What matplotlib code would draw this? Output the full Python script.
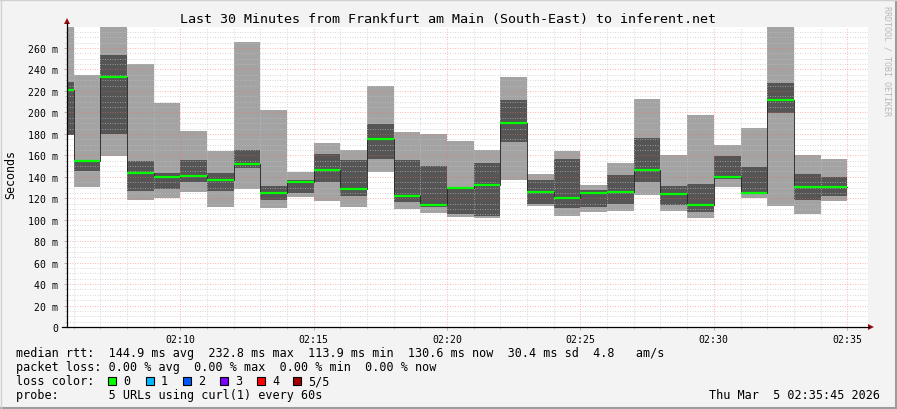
import matplotlib
matplotlib.use("Agg")
import matplotlib.pyplot as plt
from matplotlib.patches import Rectangle, Polygon
from matplotlib.lines import Line2D

# minute bins (minutes after 02:00); bin 5 is only partly visible
minutes = list(range(5, 35))
rtt_max = [300, 235.3, 290, 245.2, 209.2, 182.7, 164.4, 266.0, 202.3, 144.8,
           171.5, 165.0, 224.7, 182.1, 179.9, 173.4, 165.0, 233.1, 142.6, 164.1,
           132.4, 153.2, 212.6, 160.4, 197.7, 169.7, 185.5, 300, 160.4, 156.6]
rtt_upper = [228.4, 155.1, 253.6, 154.8, 143.6, 155.7, 143.6, 165.0, 131.5, 137.0,
             161.3, 155.7, 189.1, 155.7, 150.1, 129.6, 152.9, 211.6, 137.0, 156.6,
             127.7, 141.7, 176.2, 131.5, 133.3, 159.4, 149.2, 227.5, 142.6, 139.8]
rtt_median = [221.3, 155.1, 233.4, 143.9, 140.2, 140.8, 137.4, 152.3, 124.9, 135.5,
              146.7, 129.0, 175.6, 122.1, 113.7, 129.6, 132.4, 190.2, 126.2, 120.6,
              125.2, 126.2, 146.7, 124.0, 113.7, 139.8, 125.2, 211.6, 130.8, 130.8]
rtt_lower = [179.0, 145.8, 180.0, 127.1, 129.0, 135.2, 127.1, 147.9, 118.7, 124.9,
             135.5, 122.1, 156.6, 116.8, 111.6, 105.4, 103.8, 172.8, 114.7, 110.9,
             112.2, 114.7, 135.2, 113.7, 107.2, 138.0, 124.0, 199.5, 118.4, 122.1]
rtt_min = [179.0, 130.5, 159.7, 118.7, 120.6, 126.2, 112.2, 129.0, 111.3, 120.9,
           117.8, 112.2, 144.8, 110.0, 106.3, 102.5, 101.6, 137.4, 113.1, 103.8,
           107.5, 108.1, 123.1, 108.1, 101.6, 130.5, 120.3, 112.8, 105.4, 117.5]

x_ticks = [10, 15, 20, 25, 30, 35]
x_labels = ["02:10", "02:15", "02:20", "02:25", "02:30", "02:35"]
y_ticks = list(range(0, 261, 20))
y_labels = ["0"] + ["%d m" % v for v in y_ticks[1:]]

loss_labels = ["0", "1", "2", "3", "4", "5/5"]
loss_colors = ["#00ff00", "#00b8ff", "#0059ff", "#7e00ff", "#ff0000", "#a10000"]

W, H = 897, 410
mono = "DejaVu Sans Mono"


def fx(px):
    return px / W


def fy(py):
    return 1 - py / H


fig = plt.figure(figsize=(W / 100, H / 100), dpi=100)
fig.patch.set_facecolor("#f3f3f3")

ax = fig.add_axes([fx(67), fy(328), fx(868) - fx(67), fy(28) - fy(328)])
ax.set_facecolor("white")
ax.set_xlim(5.75, 35.78)
ax.set_ylim(0, 279.6)

# smoke: light band min..max, dark band around the median
heights_light = [a - b for a, b in zip(rtt_max, rtt_min)]
heights_dark = [a - b for a, b in zip(rtt_upper, rtt_lower)]
ax.bar(minutes, heights_light, bottom=rtt_min, width=1, align="edge",
       color="#a3a3a3", linewidth=0, zorder=2)
ax.bar(minutes, heights_dark, bottom=rtt_lower, width=1, align="edge",
       color="#555555", linewidth=0, zorder=2)

# grid on top of the smoke, rrdtool style dotted lines
minor_col = (0.76, 0.76, 0.76, 0.6)
major_col = (1.0, 0.4, 0.4, 0.45)
dots = (0, (1, 1.5))
for v in range(5, 280, 5):
    if v % 20:
        ax.axhline(v, color=minor_col, lw=0.72, ls=dots, zorder=3)
for v in range(20, 280, 20):
    ax.axhline(v, color=major_col, lw=0.72, ls=dots, zorder=3)
for m in range(6, 36):
    if m % 5:
        ax.axvline(m, color=minor_col, lw=0.72, ls=dots, zorder=3)
for m in x_ticks:
    ax.axvline(m, color=major_col, lw=0.72, ls=dots, zorder=3)

# median: dark step line, green segments (no loss)
edges = minutes + [minutes[-1] + 1]
ax.step(edges, rtt_median + [rtt_median[-1]], where="post", color="#202020",
        lw=0.6, zorder=4)
ax.hlines(rtt_median, minutes, [m + 1 for m in minutes], color="#00ff00",
          lw=1.6, zorder=5)

for s in ax.spines.values():
    s.set_visible(False)
ax.set_xticks(x_ticks)
ax.set_xticklabels(x_labels)
ax.set_xticks(range(6, 36), minor=True)
ax.set_yticks(y_ticks)
ax.set_yticklabels(y_labels)
ax.set_yticks(range(0, 280, 5), minor=True)
for lab in ax.get_xticklabels() + ax.get_yticklabels():
    lab.set_fontfamily(mono)
    lab.set_fontsize(7.1)
ax.tick_params(axis="both", which="major", length=2, width=0.7, color="#b0b0b0")
ax.tick_params(axis="both", which="minor", length=1.5, width=0.7, color="#c8c8c8")
ax.tick_params(axis="x", which="major", pad=3.2)
ax.tick_params(axis="y", which="major", pad=4.5)

# axes lines with arrows
axis_col = "#000000"
arrow_col = "#9a1010"
fig.add_artist(Line2D([fx(67), fx(67)], [fy(328), fy(24)], color=axis_col, lw=0.9))
fig.add_artist(Line2D([fx(62), fx(869)], [fy(328), fy(328)], color=axis_col, lw=0.9))
fig.add_artist(Polygon([[fx(64), fy(25)], [fx(70), fy(25)], [fx(67), fy(19)]],
                       closed=True, color=arrow_col, lw=0))
fig.add_artist(Polygon([[fx(868), fy(325)], [fx(868), fy(331)], [fx(874), fy(328)]],
                       closed=True, color=arrow_col, lw=0))

fig.text(fx(448), fy(19), "Last 30 Minutes from Frankfurt am Main (South-East) to inferent.net",
         ha="center", va="center", family=mono, fontsize=9.6, color="#000000")
fig.text(fx(11), fy(175), "Seconds", rotation=90, ha="center", va="center",
         family=mono, fontsize=8.4)
fig.text(fx(887), fy(6), "RRDTOOL / TOBI OETIKER", rotation=270, ha="center", va="top",
         family=mono, fontsize=6.0, color="#b8b8b8")

legend_fs = 8.5
fig.text(fx(16), fy(354),
         "median rtt:  144.9 ms avg  232.8 ms max  113.9 ms min  130.6 ms now  30.4 ms sd  4.8   am/s",
         ha="left", va="center", family=mono, fontsize=legend_fs)
fig.text(fx(16), fy(368),
         "packet loss: 0.00 % avg  0.00 % max  0.00 % min  0.00 % now",
         ha="left", va="center", family=mono, fontsize=legend_fs)
fig.text(fx(16), fy(382), "loss color:", ha="left", va="center", family=mono,
         fontsize=legend_fs)
sq_x = [108, 146, 183, 220, 257, 293]
for px, lab, col in zip(sq_x, loss_labels, loss_colors):
    fig.add_artist(Rectangle((fx(px), fy(386)), fx(8), 8 / H, facecolor=col,
                             edgecolor="black", lw=0.8))
    fig.text(fx(px + 15), fy(382), lab, ha="left", va="center", family=mono,
             fontsize=legend_fs)
fig.text(fx(16), fy(396), "probe:       5 URLs using curl(1) every 60s",
         ha="left", va="center", family=mono, fontsize=legend_fs)
fig.text(fx(880), fy(396), "Thu Mar  5 02:35:45 2026", ha="right", va="center",
         family=mono, fontsize=legend_fs)

# frame shadow
fig.add_artist(Line2D([0, 1], [fy(408.5), fy(408.5)], color="#9c9c9c", lw=2.2))
fig.add_artist(Line2D([fx(895.5), fx(895.5)], [0, 1], color="#9c9c9c", lw=2.2))
fig.add_artist(Line2D([0, 1], [fy(0.5), fy(0.5)], color="#d0d0d0", lw=1))
fig.add_artist(Line2D([fx(0.5), fx(0.5)], [0, 1], color="#d0d0d0", lw=1))

fig.savefig("out.png", dpi=100, facecolor=fig.get_facecolor())
